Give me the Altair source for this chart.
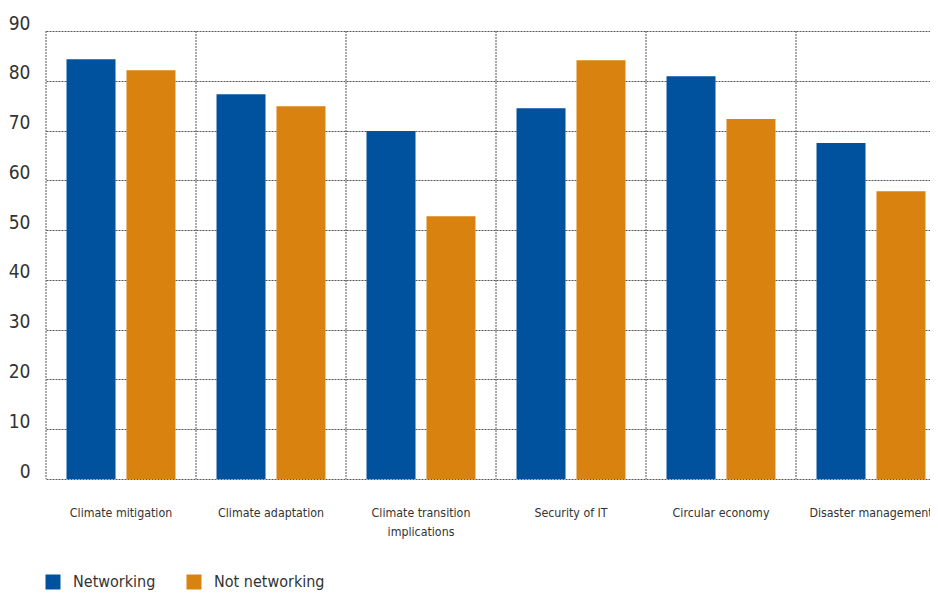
import altair as alt
import pandas as pd

categories = ["Climate mitigation", "Climate adaptation", "Climate transition implications",
              "Security of IT", "Circular economy", "Disaster management"]
series = ["Networking", "Not networking"]
networking = [84.3, 77.3, 69.9, 74.5, 80.9, 67.5]
not_networking = [82.1, 74.9, 52.8, 84.1, 72.3, 57.8]
y_ticks = [0, 10, 20, 30, 40, 50, 60, 70, 80, 90]
colors = ["#00529F", "#D9820F"]

rows = []
for c, a, b in zip(categories, networking, not_networking):
    rows.append({"category": c, "series": series[0], "value": a})
    rows.append({"category": c, "series": series[1], "value": b})
df = pd.DataFrame(rows)
cat_df = pd.DataFrame({"category": categories})

FONT = "'Liberation Sans Narrow', 'DejaVu Sans Condensed', sans-serif"

x_axis = alt.Axis(
    title=None, labelAngle=0, grid=False, ticks=False, domain=False,
    bandPosition=0.5, labelAlign="center", labelBaseline="top",
    labelPadding=27, labelFontSize=12.3, labelLimit=200, labelColor="#333333",
    labelLineHeight=19, labelFont=FONT,
    labelExpr="datum.value == 'Climate transition implications' ? ['Climate transition', 'implications'] : datum.label",
)
x_scale = alt.Scale(paddingInner=0, paddingOuter=0, range=[0, 900])

rules = alt.Chart(cat_df).mark_rule(strokeDash=[2, 1], color="#555555", strokeWidth=1).encode(
    x=alt.X("category:N", sort=categories, bandPosition=0, scale=x_scale, axis=x_axis)
)

bars = alt.Chart(df).mark_bar().encode(
    x=alt.X("category:N", sort=categories, scale=x_scale, axis=x_axis),
    xOffset=alt.XOffset("series:N", sort=series,
                        scale=alt.Scale(paddingInner=0.183, paddingOuter=0.342)),
    y=alt.Y("value:Q", scale=alt.Scale(domain=[0, 90]),
            axis=alt.Axis(values=y_ticks, title=None, grid=True, gridDash=[2, 1],
                          gridColor="#555555", gridWidth=1, domain=False, ticks=False,
                          labelBaseline="alphabetic", labelPadding=16, labelFontSize=19,
                          labelOffset=-2, labelColor="#333333", labelFont=FONT)),
    color=alt.Color("series:N", sort=series,
                    scale=alt.Scale(domain=series, range=colors),
                    legend=alt.Legend(title=None, orient="none", legendX=-1, legendY=543,
                                      direction="horizontal", symbolType="square",
                                      symbolSize=225, symbolStrokeWidth=0,
                                      labelFontSize=16, labelFont=FONT, labelColor="#333333",
                                      columnPadding=30, labelOffset=12)),
)

chart = alt.layer(rules, bars).properties(
    width=884, height=448,
    autosize=alt.AutoSizeParams(type="none"),
    padding={"left": 38, "top": 23, "right": 0, "bottom": 111},
).configure_view(stroke=None)

chart.save("out.html", embed_options={"renderer": "svg", "actions": False})
